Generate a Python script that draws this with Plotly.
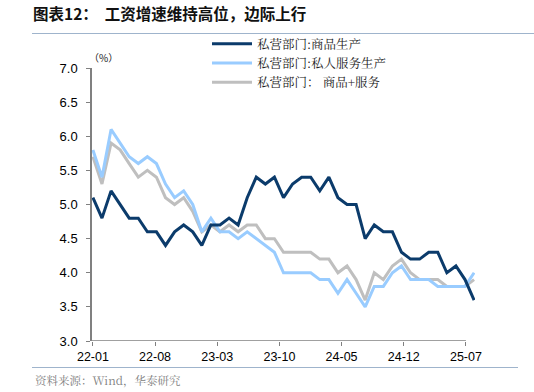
import plotly.graph_objects as go

# ---------------- data (monthly, 2022-01 .. 2025-07) ----------------
months = [f"{y % 100:02d}-{m:02d}" for y in range(2022, 2026) for m in range(1, 13)][:43]

goods = [5.1, 4.8, 5.2, 5.0, 4.8, 4.8, 4.6, 4.6, 4.4, 4.6, 4.7, 4.6,
         4.4, 4.7, 4.7, 4.8, 4.7, 5.1, 5.4, 5.3, 5.4, 5.1, 5.3, 5.4,
         5.4, 5.2, 5.4, 5.1, 5.0, 5.0, 4.5, 4.7, 4.6, 4.6, 4.3, 4.2,
         4.2, 4.3, 4.3, 4.0, 4.1, 3.9, 3.6]

services = [5.8, 5.4, 6.1, 5.9, 5.7, 5.6, 5.7, 5.6, 5.3, 5.1, 5.2, 5.0,
            4.6, 4.8, 4.6, 4.6, 4.5, 4.6, 4.5, 4.4, 4.3, 4.0, 4.0, 4.0,
            4.0, 3.9, 3.9, 3.7, 3.9, 3.7, 3.5, 3.8, 3.8, 4.0, 4.1, 3.9,
            3.9, 3.9, 3.8, 3.8, 3.8, 3.8, 4.0]

total = [5.7, 5.3, 5.9, 5.8, 5.6, 5.4, 5.5, 5.4, 5.1, 5.0, 5.1, 4.9,
         4.6, 4.7, 4.6, 4.7, 4.6, 4.7, 4.7, 4.5, 4.5, 4.3, 4.3, 4.3,
         4.3, 4.2, 4.2, 4.0, 4.1, 3.9, 3.6, 4.0, 3.9, 4.1, 4.2, 4.0,
         3.9, 3.9, 3.9, 3.8, 3.8, 3.8, 3.9]

series_names = ["私营部门:商品生产", "私营部门:私人服务生产", "私营部门： 商品+服务"]
tick_labels = ["22-01", "22-08", "23-03", "23-10", "24-05", "24-12", "25-07"]

# ---------------- layout constants ----------------
W_PX, H_PX = 534, 392
L, R, T, B = 92, 59, 68, 51
PW, PH = W_PX - L - R, H_PX - T - B
X_RANGE = [-0.1, 42.1]
TICK_STEP = 6.85          # label spacing on the reference axis (in months)

def px_x(p):
    return (p - L) / PW

def px_y(p):
    return (H_PX - B - p) / PH

x_idx = list(range(len(months)))
colors = {"goods": "#0b3b6b", "services": "#99ccff", "total": "#bfbfbf"}
axis_color = "#808080"
base_font = "Arial, Liberation Sans, sans-serif"
cjk_font = "Noto Sans CJK SC, sans-serif"
legend_font = "Noto Serif CJK SC, Noto Sans CJK SC, serif"

fig = go.Figure()
fig.add_trace(go.Scatter(x=x_idx, y=total, mode="lines", name=series_names[2],
                         line=dict(color=colors["total"], width=3), legendrank=3))
fig.add_trace(go.Scatter(x=x_idx, y=services, mode="lines", name=series_names[1],
                         line=dict(color=colors["services"], width=3), legendrank=2))
fig.add_trace(go.Scatter(x=x_idx, y=goods, mode="lines", name=series_names[0],
                         line=dict(color=colors["goods"], width=3), legendrank=1))

tickvals = [k * TICK_STEP for k in range(len(tick_labels))]

fig.update_layout(
    width=W_PX, height=H_PX,
    margin=dict(l=L, r=R, t=T, b=B, autoexpand=False),
    paper_bgcolor="white", plot_bgcolor="white",
    showlegend=True,
    legend=dict(x=px_x(207), y=px_y(29), xanchor="left", yanchor="top",
                bgcolor="rgba(0,0,0,0)", font=dict(family=legend_font, size=12.5, color="#222222"),
                itemwidth=40, tracegroupgap=0),
    title=dict(text="<b>图表12：  工资增速维持高位，边际上行</b>",
               xref="container", yref="container", x=33 / W_PX, y=(H_PX - 15) / H_PX,
               xanchor="left", yanchor="middle",
               font=dict(family=cjk_font, size=15.5, color="#111111")),
    xaxis=dict(range=X_RANGE, tickmode="array", tickvals=tickvals, ticktext=tick_labels,
               showgrid=False, zeroline=False, showline=False,
               ticks="outside", ticklen=4, tickcolor=axis_color, tickwidth=1,
               tickfont=dict(family=base_font, size=12.5, color="#000000")),
    yaxis=dict(range=[3.0, 7.0], dtick=0.5, tick0=3.0, tickformat=".1f",
               showgrid=False, zeroline=False, showline=True, linecolor=axis_color, linewidth=1.5,
               ticks="outside", ticklen=4, tickcolor=axis_color, tickwidth=1,
               ticklabelstandoff=6,
               tickfont=dict(family=base_font, size=13, color="#000000")),
)

# x-axis baseline (ends at the last labelled tick, as in the reference)
fig.add_shape(type="line", xref="x", yref="y", x0=X_RANGE[0], x1=tickvals[-1], y0=3.0, y1=3.0,
              line=dict(color=axis_color, width=1.5))
# title underline and footer rule
fig.add_shape(type="line", xref="paper", yref="paper", x0=px_x(32), x1=px_x(534),
              y0=px_y(33.5), y1=px_y(33.5), line=dict(color="#9fb4cc", width=1.2))
fig.add_shape(type="line", xref="paper", yref="paper", x0=px_x(32), x1=px_x(518),
              y0=px_y(367.5), y1=px_y(367.5), line=dict(color="#9fb4cc", width=1.2))

fig.add_annotation(text="（%）", xref="paper", yref="paper", x=px_x(103), y=px_y(58),
                   xanchor="center", yanchor="middle", showarrow=False,
                   font=dict(family=cjk_font, size=10, color="#222222"))
fig.add_annotation(text="资料来源：Wind，华泰研究", xref="paper", yref="paper",
                   x=px_x(33), y=px_y(380), xanchor="left", yanchor="middle", showarrow=False,
                   font=dict(family=legend_font, size=11.5, color="#808080"))

fig.write_html("out.html", config={"displayModeBar": False},
               post_script="document.body.style.margin='0';document.body.style.overflow='hidden';")
